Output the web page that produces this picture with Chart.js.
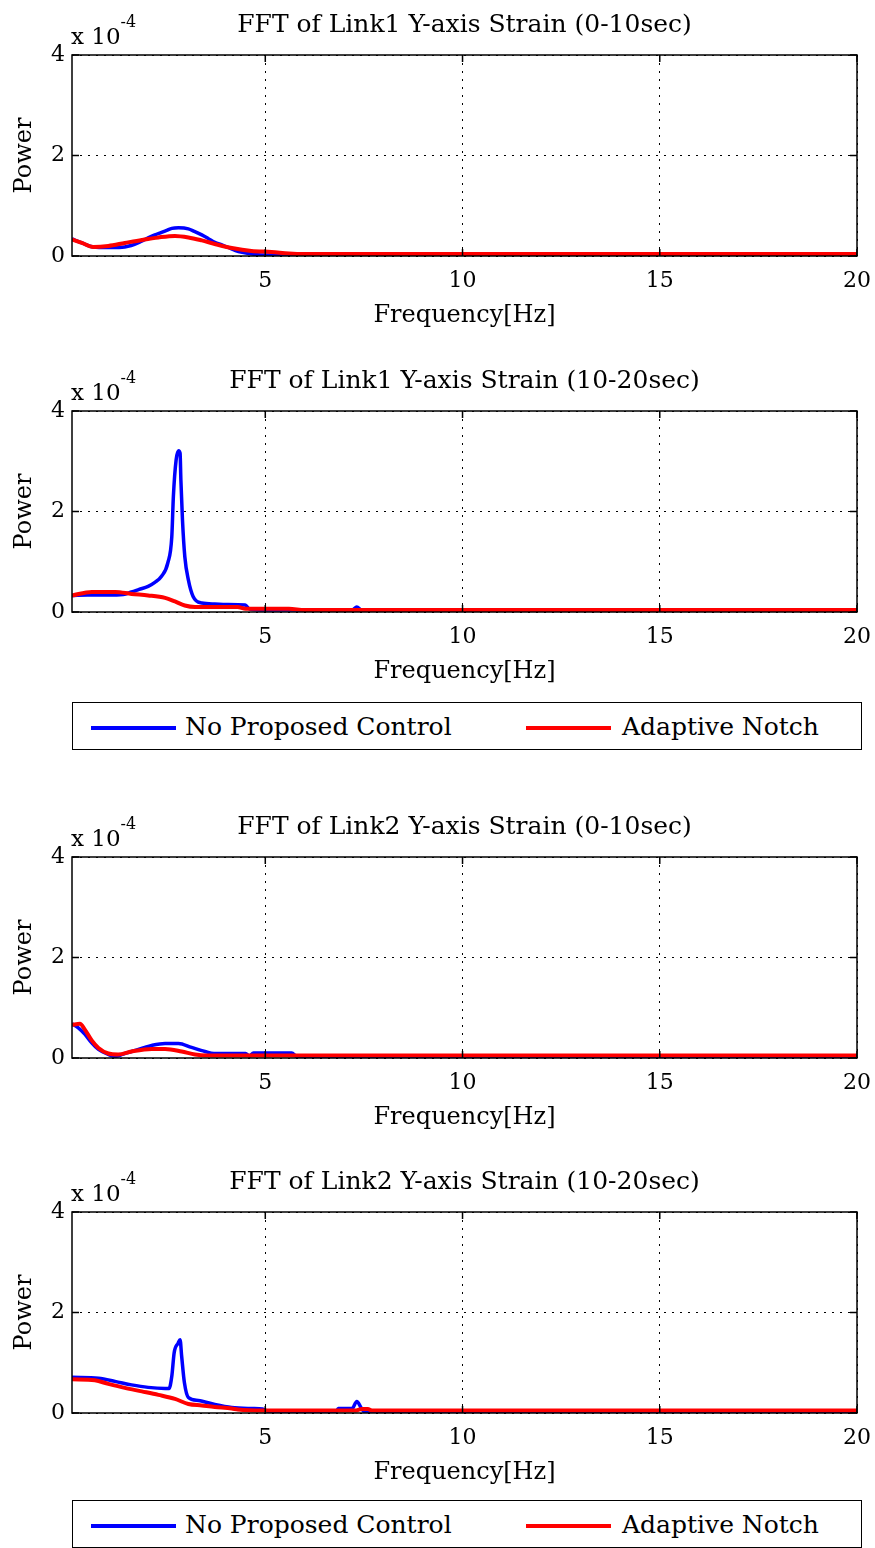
<!DOCTYPE html>
<html><head><meta charset="utf-8">
<script src="https://cdn.jsdelivr.net/npm/chart.js@4.4.1/dist/chart.umd.min.js"></script>
<style>
html,body{margin:0;padding:0;background:#fff}
body{position:relative;width:875px;height:1548px;overflow:hidden;font-family:"DejaVu Serif",serif;color:#000}
canvas{position:absolute;left:0}
.title{position:absolute;font-size:25px;line-height:30px;height:30px;white-space:nowrap;transform:translateX(-50%)}
.expo{position:absolute;font-size:23px;line-height:26px;white-space:nowrap}
.expo sup{font-size:16px;position:relative;top:-9px;vertical-align:top;line-height:16px}
.legend{position:absolute;left:72px;width:788px;height:46px;border:1.5px solid #000;background:#fff}
.legend .ln{position:absolute;height:3.5px;top:23px}
.legend .lt{position:absolute;font-size:25px;line-height:30px;top:9px;white-space:nowrap}
</style>
</head><body>
<script>
// ---------- data (power in units of 1e-4) ----------
const seriesNames = ["No Proposed Control", "Adaptive Notch"];
const seriesColors = ["#0000ff", "#ff0000"];
const panelTitles = [
  "FFT of Link1 Y-axis Strain (0-10sec)",
  "FFT of Link1 Y-axis Strain (10-20sec)",
  "FFT of Link2 Y-axis Strain (0-10sec)",
  "FFT of Link2 Y-axis Strain (10-20sec)"
];
const xTicks = [5, 10, 15, 20];
const yTicks = [0, 2, 4];
const xLabel = "Frequency[Hz]";
const yLabel = "Power";

// Panel 1: Link1 0-10 sec
const p1BlueF = [0.1,0.35,0.64,1.0,1.3,1.6,1.85,2.03,2.2,2.37,2.5,2.63,2.8,3.05,3.2,3.39,3.55,3.72,3.9,4.06,4.32,4.6,4.91,5.2,6,8,10,12,14,16,18,20];
const p1BlueP = [0.34,0.26,0.18,0.17,0.17,0.21,0.29,0.36,0.42,0.47,0.51,0.55,0.56,0.54,0.49,0.42,0.35,0.27,0.22,0.17,0.09,0.05,0.02,0.02,0.02,0.02,0.02,0.02,0.02,0.02,0.02,0.02];
const p1RedF  = [0.1,0.35,0.64,1.02,1.44,1.87,2.29,2.71,3.05,3.39,3.72,4.15,4.65,5.16,5.6,6,8,10,12,14,16,18,20];
const p1RedP  = [0.33,0.26,0.18,0.20,0.26,0.32,0.37,0.40,0.37,0.31,0.24,0.16,0.10,0.08,0.05,0.04,0.04,0.04,0.04,0.04,0.04,0.04,0.04];

// Panel 2: Link1 10-20 sec
const p2BlueF = [0.1,0.5,1.0,1.4,1.61,1.8,2.03,2.2,2.37,2.53,2.63,2.67,2.74,2.8,2.84,2.86,2.9,2.96,3.05,3.17,3.39,3.72,4.0,4.49,4.6,5,6,7.2,7.32,7.44,8,10,12,15,20];
const p2BlueP = [0.33,0.34,0.34,0.35,0.40,0.45,0.51,0.59,0.71,0.98,1.5,2.3,3.03,3.21,3.16,2.63,1.84,1.1,0.64,0.31,0.18,0.16,0.15,0.14,0.06,0.04,0.04,0.04,0.10,0.04,0.04,0.04,0.04,0.04,0.04];
const p2RedF  = [0.1,0.6,1.2,1.61,2.03,2.46,2.71,2.96,3.22,4.3,4.5,5.6,6,8,10,15,20];
const p2RedP  = [0.33,0.40,0.40,0.36,0.33,0.28,0.21,0.13,0.10,0.10,0.065,0.065,0.04,0.04,0.04,0.04,0.04];

// Panel 3: Link2 0-10 sec
const p3BlueF = [0.1,0.26,0.43,0.6,0.77,1.02,1.19,1.4,1.61,1.9,2.12,2.46,2.8,3.13,3.47,3.7,4.5,4.6,4.7,5.67,5.8,8,10,15,20];
const p3BlueP = [0.68,0.6,0.47,0.3,0.17,0.07,0.03,0.08,0.13,0.2,0.25,0.29,0.29,0.21,0.13,0.09,0.09,0.04,0.1,0.1,0.03,0.03,0.03,0.03,0.03];
const p3RedF  = [0.1,0.3,0.43,0.6,0.77,1.02,1.27,1.61,2.12,2.46,2.88,3.22,3.5,5,10,15,20];
const p3RedP  = [0.66,0.68,0.56,0.35,0.2,0.09,0.07,0.13,0.18,0.18,0.13,0.07,0.05,0.05,0.05,0.05,0.05];

// Panel 4: Link2 10-20 sec
const p4BlueF = [0.1,0.77,1.19,1.61,2.03,2.46,2.56,2.63,2.69,2.79,2.84,2.88,2.95,3.05,3.3,3.72,4.15,4.65,4.93,5.1,6.8,6.85,7.2,7.32,7.44,7.5,8,10,15,20];
const p4BlueP = [0.71,0.69,0.63,0.56,0.51,0.49,0.49,0.73,1.2,1.39,1.46,1.13,0.6,0.31,0.25,0.17,0.11,0.09,0.08,0.03,0.03,0.09,0.09,0.23,0.09,0.03,0.03,0.03,0.03,0.03];
const p4RedF  = [0.1,0.68,1.02,1.44,1.87,2.29,2.71,3.05,3.39,3.72,4.15,4.3,5,7.3,7.45,7.6,7.7,10,15,20];
const p4RedP  = [0.67,0.65,0.58,0.5,0.43,0.36,0.28,0.18,0.15,0.12,0.09,0.07,0.05,0.05,0.08,0.08,0.05,0.05,0.05,0.05];

const panelData = [
  [[p1BlueF,p1BlueP],[p1RedF,p1RedP]],
  [[p2BlueF,p2BlueP],[p2RedF,p2RedP]],
  [[p3BlueF,p3BlueP],[p3RedF,p3RedP]],
  [[p4BlueF,p4BlueP],[p4RedF,p4RedP]]
];

// ---------- layout ----------
const plotTops = [55, 411, 857, 1212];
const plotH = 201;
const legendTops = [702, 1500];
const FONT = "DejaVu Serif";

const framePlugin = {
  id: 'frame',
  afterDatasetsDraw(chart) {
    const {ctx, chartArea: a, scales: {x, y}} = chart;
    ctx.save();
    ctx.strokeStyle = '#000';
    ctx.lineWidth = 1.5;
    ctx.strokeRect(a.left, a.top, a.right - a.left, a.bottom - a.top);
    ctx.beginPath();
    x.ticks.forEach(t => {
      const p = x.getPixelForValue(t.value);
      ctx.moveTo(p, a.bottom); ctx.lineTo(p, a.bottom - 7);
      ctx.moveTo(p, a.top); ctx.lineTo(p, a.top + 7);
    });
    y.ticks.forEach(t => {
      const p = y.getPixelForValue(t.value);
      ctx.moveTo(a.left, p); ctx.lineTo(a.left + 7, p);
      ctx.moveTo(a.right, p); ctx.lineTo(a.right - 7, p);
    });
    ctx.stroke();
    ctx.restore();
  }
};

function addDiv(cls, html, style) {
  const d = document.createElement('div');
  d.className = cls;
  d.innerHTML = html;
  Object.assign(d.style, style);
  document.body.appendChild(d);
  return d;
}

plotTops.forEach((T, i) => {
  const H = 55 + plotH + 75;
  const cv = document.createElement('canvas');
  cv.width = 875; cv.height = H;
  cv.style.top = (T - 55) + 'px';
  document.body.appendChild(cv);

  addDiv('title', panelTitles[i], {left: '464.5px', top: (T - 46) + 'px'});
  addDiv('expo', 'x 10<sup>-4</sup>', {left: '71px', top: (T - 32) + 'px'});

  const datasets = panelData[i].map((s, k) => ({
    label: seriesNames[k],
    data: s[0].map((f, j) => ({x: f, y: s[1][j]})),
    borderColor: seriesColors[k],
    backgroundColor: seriesColors[k],
    borderWidth: k === 0 ? 3.5 : 4,
    pointRadius: 0,
    fill: false,
    cubicInterpolationMode: 'monotone',
    order: k === 0 ? 1 : 0
  }));

  new Chart(cv, {
    type: 'line',
    data: {datasets},
    plugins: [framePlugin],
    options: {
      responsive: false,
      animation: false,
      events: [],
      layout: {padding: {top: 55, right: 18, left: 0, bottom: 0}},
      plugins: {legend: {display: false}, tooltip: {enabled: false}, title: {display: false}},
      scales: {
        x: {
          type: 'linear', min: 0.1, max: 20,
          afterBuildTicks: s => { s.ticks = xTicks.map(v => ({value: v})); },
          afterFit: s => { s.height = 75; },
          ticks: {color: '#000', font: {family: FONT, size: 22}, padding: 3, maxRotation: 0, autoSkip: false},
          grid: {color: '#000', lineWidth: 1, drawTicks: true, tickLength: 9, tickColor: 'rgba(0,0,0,0)'},
          border: {display: false, dash: [2, 6]},
          title: {display: true, text: xLabel, color: '#000', font: {family: FONT, size: 24}, padding: {top: 0, bottom: 1}}
        },
        y: {
          type: 'linear', min: 0, max: 4,
          afterBuildTicks: s => { s.ticks = yTicks.map(v => ({value: v})); },
          afterFit: s => { s.width = 72; },
          ticks: {color: '#000', font: {family: FONT, size: 22}, padding: 7},
          grid: {color: '#000', lineWidth: 1, drawTicks: false},
          border: {display: false, dash: [2, 6]},
          title: {display: true, text: yLabel, color: '#000', font: {family: FONT, size: 24}, padding: {top: 10, bottom: 0}}
        }
      }
    }
  });
});

legendTops.forEach(top => {
  const lg = addDiv('legend', '', {top: top + 'px'});
  const pos = [[18, 103, 112], [453, 538, 549]];
  seriesNames.forEach((n, k) => {
    const ln = document.createElement('div');
    ln.className = 'ln';
    ln.style.left = pos[k][0] + 'px';
    ln.style.width = (pos[k][1] - pos[k][0]) + 'px';
    ln.style.background = seriesColors[k];
    lg.appendChild(ln);
    const t = document.createElement('div');
    t.className = 'lt';
    t.style.left = pos[k][2] + 'px';
    t.textContent = n;
    lg.appendChild(t);
  });
});
</script>
</body></html>
